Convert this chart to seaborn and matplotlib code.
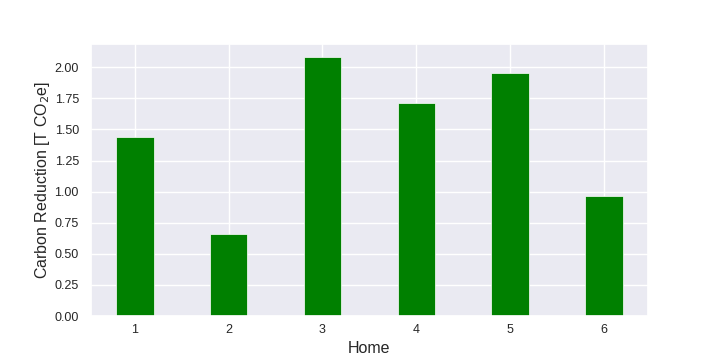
import matplotlib
matplotlib.use("Agg")
import matplotlib.pyplot as plt
import seaborn as sns
import pandas as pd

homes = [1, 2, 3, 4, 5, 6]
reduction = [1.437, 0.658, 2.084, 1.711, 1.952, 0.963]
yticks = [0, 0.25, 0.5, 0.75, 1.0, 1.25, 1.5, 1.75, 2.0]
ytick_labels = ["0.00", "0.25", "0.50", "0.75", "1.00", "1.25", "1.50", "1.75", "2.00"]

sns.set_theme(style="darkgrid")
plt.rcParams['font.family'] = ['Arial', 'Liberation Sans', 'DejaVu Sans']

fig, ax = plt.subplots(figsize=(7.2, 3.6), dpi=100)
fig.subplots_adjust(left=0.126, right=0.9, top=0.878, bottom=0.122)

df = pd.DataFrame({"Home": homes, "Reduction": reduction})
sns.barplot(data=df, x="Home", y="Reduction", color="green", saturation=1,
            width=0.4, native_scale=True, edgecolor="white", linewidth=0.5, ax=ax)
ax.set_xticks(homes)
ax.set_xticklabels([str(h) for h in homes])
ax.set_xlim(0.53, 6.47)
ax.set_ylim(0, 2.188)
ax.set_yticks(yticks)
ax.set_yticklabels(ytick_labels)
ax.tick_params(axis="x", labelsize=9, length=0, pad=5.5)
ax.tick_params(axis="y", labelsize=9, length=0, pad=8.5)
ax.set_xlabel("Home", fontsize=11.5, labelpad=3.5)
ax.set_ylabel(r"Carbon Reduction [T CO$_2$e]", fontsize=11.5, labelpad=1.5)

fig.savefig("out.png", dpi=100)
